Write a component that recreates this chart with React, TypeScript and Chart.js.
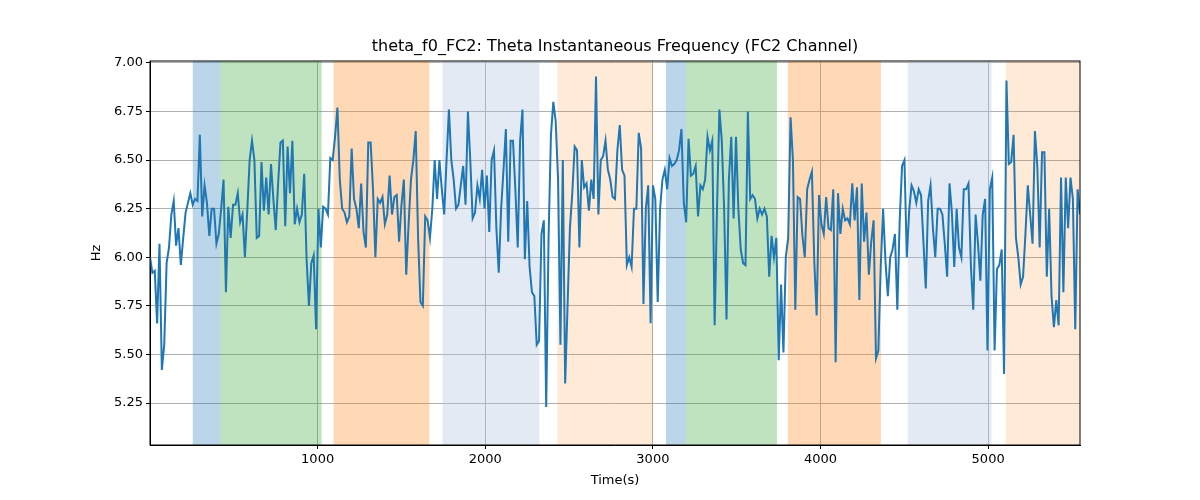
import React, { useEffect, useRef } from "react";
import { Chart, registerables } from "chart.js";
Chart.register(...registerables);

const TIME_MAX = 5548;
const freqHz: number[] = [
  6.0,5.92,5.93,5.66,6.07,5.42,5.55,5.97,6.05,6.22,6.29,6.06,6.15,5.96,6.1,
  6.23,6.28,6.33,6.27,6.30,6.29,6.63,6.21,6.37,6.28,
  6.11,6.25,6.25,6.07,6.12,6.25,6.40,5.82,6.26,6.10,6.27,6.27,6.33,6.18,6.22,6.00,6.24,6.50,6.60,6.50,6.10,6.11,6.49,6.24,6.41,6.22,6.48,6.30,6.14,6.38,6.59,6.60,6.16,6.57,6.33,6.60,6.17,6.25,6.18,6.22,6.43,
  5.99,5.75,5.97,6.01,5.63,
  6.25,6.05,6.26,6.25,6.22,6.51,6.50,6.62,6.77,6.40,6.25,6.23,6.18,6.21,6.56,6.30,6.25,6.15,6.38,6.13,6.05,6.59,6.59,6.35,6.00,6.30,6.28,6.31,6.17,6.22,6.42,6.22,6.31,6.32,6.08,6.27,6.40,5.91,6.17,6.40,6.50,6.65,
  6.10,5.77,5.75,6.21,6.19,6.10,
  6.25,6.50,6.30,6.50,6.35,6.22,6.50,6.76,6.50,6.40,6.25,6.27,6.37,6.47,6.27,6.75,6.50,6.20,6.23,6.37,6.30,6.45,6.25,6.42,6.13,6.50,6.55,6.15,5.92,6.25,6.45,6.66,6.08,6.60,6.60,6.35,6.05,6.60,6.76,5.99,
  6.29,5.95,5.82,5.80,5.55,5.57,6.12,6.19,5.23,
  6.10,6.63,6.80,6.70,6.40,5.55,6.50,5.35,5.75,6.15,6.33,6.57,6.55,6.05,6.50,6.36,6.38,6.24,6.40,6.30,6.93,6.22,6.50,6.52,6.60,6.45,6.40,6.31,6.30,6.55,6.68,6.45,6.42,5.96,6.00,5.95,6.25,6.25,6.64,6.56,
  5.76,6.25,6.37,5.66,6.37,6.30,5.77,
  6.25,6.40,6.45,6.35,6.51,6.47,6.48,6.50,6.55,6.66,
  6.28,6.18,6.61,6.42,6.43,6.47,6.21,6.37,6.35,6.40,6.62,6.55,6.60,5.65,6.25,6.76,6.60,6.25,5.68,6.40,6.62,6.20,6.62,6.25,6.04,5.97,5.96,6.75,6.30,6.32,6.30,
  6.20,6.25,6.22,6.25,6.21,5.90,6.11,6.00,6.10,5.47,5.86,5.51,
  6.00,6.10,6.72,6.50,5.73,6.31,6.30,6.11,6.00,6.35,6.40,6.44,5.98,5.70,6.32,6.17,6.12,6.31,6.15,6.14,6.35,5.46,6.33,6.12,6.25,6.19,6.20,6.17,6.38,6.19,6.36,5.78,6.38,6.08,6.23,5.91,6.08,6.19,5.48,5.52,
  5.95,6.25,5.98,5.80,6.00,6.04,6.12,5.73,6.19,
  6.47,6.50,6.00,6.24,6.37,6.34,6.28,6.35,6.32,6.08,5.84,6.29,6.37,6.15,6.00,6.25,6.25,6.22,6.07,5.90,6.38,6.23,5.95,6.25,6.05,6.00,6.35,6.35,6.38,5.96,5.73,6.22,6.07,5.88,6.22,6.30,5.52,6.35,6.41,5.52,5.94,
  5.96,6.04,5.40,6.91,6.48,6.49,6.63,
  6.10,6.00,5.86,5.90,6.12,6.37,6.22,6.07,6.65,6.47,6.05,6.54,6.54,5.90,6.25,5.80,5.64,5.78,5.65,6.41,5.82,6.41,6.15,6.41,6.30,5.63,6.35,6.22,
];

const spanStarts = [255, 422, 1095, 1745, 2430, 3078, 3197, 3805, 4520, 5105];
const spanEnds = [422, 1024, 1667, 2323, 3000, 3197, 3740, 4360, 5020, 5548];
const spanColors = [
  "rgba(31,119,180,0.3)", "rgba(44,160,44,0.3)", "rgba(255,127,14,0.3)",
  "rgba(176,196,222,0.35)", "rgba(255,127,14,0.16)",
  "rgba(31,119,180,0.3)", "rgba(44,160,44,0.3)", "rgba(255,127,14,0.3)",
  "rgba(176,196,222,0.35)", "rgba(255,127,14,0.16)",
];
const xTicks = [1000, 2000, 3000, 4000, 5000];
const yTicks = [5.25, 5.5, 5.75, 6.0, 6.25, 6.5, 6.75, 7.0];
const FONT = "'DejaVu Sans', sans-serif";

export default function App() {
  const ref = useRef<HTMLCanvasElement>(null);
  useEffect(() => {
    const step = TIME_MAX / (freqHz.length - 1);
    const pts = freqHz.map((v, i) => ({ x: i * step, y: v }));
    const spanPlugin = {
      id: "spans",
      beforeDatasetsDraw(chart: any) {
        const { ctx, chartArea, scales } = chart;
        ctx.save();
        spanStarts.forEach((s, i) => {
          const x0 = scales.x.getPixelForValue(s);
          const x1 = scales.x.getPixelForValue(spanEnds[i]);
          ctx.fillStyle = spanColors[i];
          ctx.fillRect(x0, chartArea.top, x1 - x0, chartArea.bottom - chartArea.top);
        });
        ctx.restore();
      },
      afterDraw(chart: any) {
        const { ctx, chartArea } = chart;
        ctx.save();
        ctx.fillStyle = "#000";
        ctx.font = "16px " + FONT;
        ctx.textAlign = "center";
        ctx.textBaseline = "bottom";
        const cx = (chartArea.left + chartArea.right) / 2;
        ctx.fillText("theta_f0_FC2: Theta Instantaneous Frequency (FC2 Channel)", cx, chartArea.top - 6);
        ctx.font = "13px " + FONT;
        ctx.textBaseline = "middle";
        ctx.fillText("Time(s)", cx, 481);
        ctx.translate(97, (chartArea.top + chartArea.bottom) / 2);
        ctx.rotate(-Math.PI / 2);
        ctx.fillText("Hz", 0, 0);
        ctx.restore();
        ctx.save();
        ctx.strokeStyle = "#000";
        ctx.lineWidth = 1;
        ctx.strokeRect(chartArea.left, chartArea.top, chartArea.right - chartArea.left, chartArea.bottom - chartArea.top);
        ctx.restore();
      },
    };
    const chart = new Chart(ref.current!, {
      type: "line",
      data: { datasets: [{ data: pts, borderColor: "#1f77b4", borderWidth: 2, pointRadius: 0, tension: 0 }] },
      options: {
        animation: false,
        responsive: false,
        layout: { padding: { top: 61, right: 120, left: 0, bottom: 0 } },
        plugins: { legend: { display: false }, tooltip: { enabled: false } },
        scales: {
          x: {
            type: "linear", min: 0, max: TIME_MAX,
            afterBuildTicks: (s: any) => { s.ticks = xTicks.map((v) => ({ value: v })); },
            afterFit: (s: any) => { s.height = 55; },
            grid: { color: "#b0b0b0", tickLength: 4, tickColor: "#000" },
            border: { color: "#000" },
            ticks: { color: "#000", font: { family: FONT, size: 13 }, maxRotation: 0, callback: (v: any) => String(v) },
          },
          y: {
            min: 5.034, max: 7.01,
            afterBuildTicks: (s: any) => { s.ticks = yTicks.map((v) => ({ value: v })); },
            afterFit: (s: any) => { s.width = 150; },
            grid: { color: "#b0b0b0", tickLength: 4, tickColor: "#000" },
            border: { color: "#000" },
            ticks: { color: "#000", font: { family: FONT, size: 13 }, callback: (v: any) => Number(v).toFixed(2) },
          },
        },
      },
      plugins: [spanPlugin],
    });
    return () => chart.destroy();
  }, []);
  return (
    <div style={{ position: "absolute", left: 0, top: 0, width: 1200, height: 500, background: "#fff" }}>
      <canvas ref={ref} width={1200} height={500} />
    </div>
  );
}
